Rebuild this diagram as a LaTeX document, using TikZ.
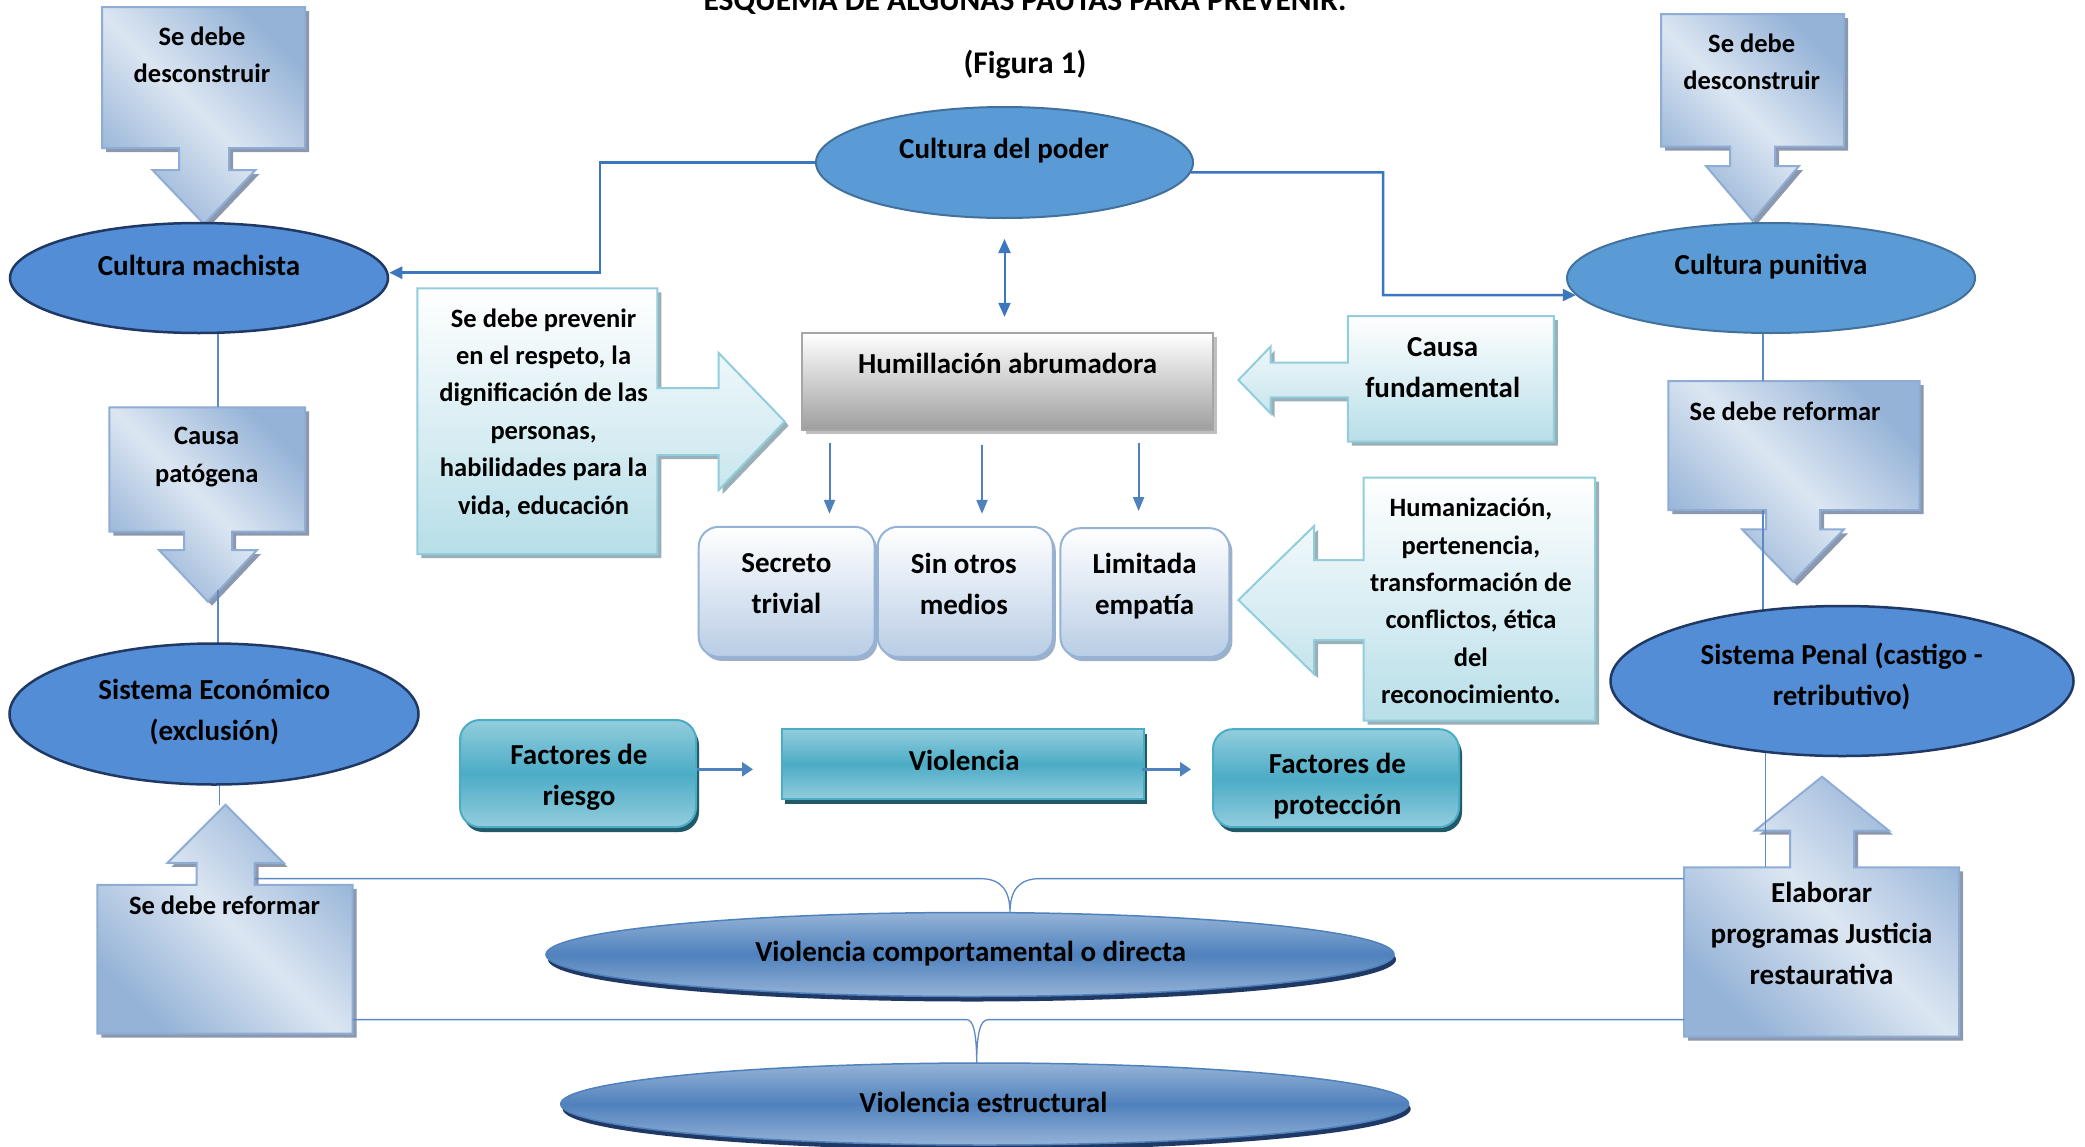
\documentclass[tikz,border=0pt]{standalone}
\usepackage{fontspec}
\setmainfont{Carlito}
\usetikzlibrary{arrows.meta,shapes.geometric,shadows,calc}
\pgfdeclarelayer{back}
\pgfdeclarelayer{mid}
\pgfsetlayers{back,mid,main}

\definecolor{cBlueA}{HTML}{538DD5}
\definecolor{cNavy}{HTML}{203864}
\definecolor{cBlueB}{HTML}{5B9BD5}
\definecolor{cBorderB}{HTML}{41719C}
\definecolor{cLine}{HTML}{3C76BE}
\definecolor{cThin}{HTML}{5B8AC6}
\definecolor{cArr}{HTML}{4F81BD}
\definecolor{cCallDark}{HTML}{95B3D7}
\definecolor{cCallLight}{HTML}{DCE6F2}
\definecolor{cCallBorder}{HTML}{8FADD4}
\definecolor{cCallShadow}{HTML}{8B98AD}
\definecolor{cCyan}{HTML}{B7DEE8}
\definecolor{cCyanBorder}{HTML}{92CDDC}
\definecolor{cCyanShadow}{HTML}{9AAFB6}
\definecolor{cGrayBot}{HTML}{9E9E9E}
\definecolor{cGrayBorder}{HTML}{A6A6A6}
\definecolor{cGrayShadow}{HTML}{BFBFBF}
\definecolor{cRoundBot}{HTML}{B9CDE5}
\definecolor{cRoundBorder}{HTML}{95B3D7}
\definecolor{cRoundShadow}{HTML}{9DB0C9}
\definecolor{cTealL}{HTML}{93CDDD}
\definecolor{cTealD}{HTML}{4BACC6}
\definecolor{cTealShadow}{HTML}{215968}
\definecolor{cVioL}{HTML}{95B3D7}
\definecolor{cVioD}{HTML}{4F81BD}
\definecolor{cVioShadow}{HTML}{1F3864}

% callout outlines: box (x1,y1)-(x2,y2), arrow centre, shaft half width, head half width, head base, tip
\newcommand\dnpath[9]{(#1,#2) -- (#3,#2) -- (#3,#4) -- ({#5+#6},#4) -- ({#5+#6},#8) -- ({#5+#7},#8) -- (#5,#9) -- ({#5-#7},#8) -- ({#5-#6},#8) -- ({#5-#6},#4) -- (#1,#4) -- cycle}
\newcommand\uppath[9]{(#1,#2) -- ({#5-#6},#2) -- ({#5-#6},#8) -- ({#5-#7},#8) -- (#5,#9) -- ({#5+#7},#8) -- ({#5+#6},#8) -- ({#5+#6},#2) -- (#3,#2) -- (#3,#4) -- (#1,#4) -- cycle}
\newcommand\rtpath[9]{(#1,#2) -- (#3,#2) -- (#3,{#5-#6}) -- (#8,{#5-#6}) -- (#8,{#5-#7}) -- (#9,#5) -- (#8,{#5+#7}) -- (#8,{#5+#6}) -- (#3,{#5+#6}) -- (#3,#4) -- (#1,#4) -- cycle}
\newcommand\ltpath[9]{(#1,#2) -- (#3,#2) -- (#3,#4) -- (#1,#4) -- (#1,{#5+#6}) -- (#8,{#5+#6}) -- (#8,{#5+#7}) -- (#9,#5) -- (#8,{#5-#7}) -- (#8,{#5-#6}) -- (#1,{#5-#6}) -- cycle}
\newcommand\bluecall[1]{%
  \fill[cCallShadow,shift={(4,4)}] #1;
  \shade[top color=cCallDark,bottom color=cCallDark,middle color=cCallLight,shading angle=-45] #1;
  \draw[cCallBorder,line width=2pt] #1;}
\newcommand\cyancall[1]{%
  \fill[cCyanShadow,shift={(4,4)}] #1;
  \shade[top color=white,bottom color=cCyan] #1;
  \draw[cCyanBorder,line width=2pt] #1;}

\tikzset{
 txtL/.style={font=\bfseries\fontsize{29}{41}\selectfont,align=center,inner sep=0pt},
 txtS/.style={font=\bfseries\fontsize{26.5}{37.4}\selectfont,align=center,inner sep=0pt},
 txtT/.style={font=\bfseries\fontsize{31.5}{38}\selectfont,anchor=base,inner sep=0pt},
 ellDark/.style={ellipse,draw=cNavy,line width=2.5pt,fill=cBlueA,inner sep=0pt},
 ellLight/.style={ellipse,draw=cBorderB,line width=2pt,fill=cBlueB,inner sep=0pt},
 grayBox/.style={rectangle,draw=cGrayBorder,line width=2pt,top color=white,bottom color=cGrayBot,
   drop shadow={fill=cGrayShadow,opacity=1,shadow xshift=4pt,shadow yshift=-4pt},inner sep=0pt},
 roundBox/.style={rectangle,rounded corners=20pt,draw=cRoundBorder,line width=2pt,top color=white,bottom color=cRoundBot,
   drop shadow={fill=cRoundShadow,opacity=1,shadow xshift=3pt,shadow yshift=-4pt},inner sep=0pt},
 tealBox/.style={rectangle,draw=cTealD,line width=2pt,top color=cTealL,bottom color=cTealL,middle color=cTealD,
   drop shadow={fill=cTealShadow,opacity=1,shadow xshift=3pt,shadow yshift=-5pt},inner sep=0pt},
 tealRound/.style={tealBox,rounded corners=20pt},
 vioEll/.style={ellipse,draw=cVioD,line width=1.5pt,top color=cVioL,bottom color=cVioL,middle color=cVioD,
   drop shadow={fill=cVioShadow,opacity=1,shadow xshift=2pt,shadow yshift=-5pt},inner sep=0pt},
 conn/.style={draw=cLine,line width=2.5pt},
 thinl/.style={draw=cThin,line width=1.3pt},
 tipA/.style={-{Triangle[length=13pt,width=12pt]}},
 darr/.style={draw=cArr,line width=2pt,-{Triangle[length=14pt,width=11pt]}},
 harr/.style={draw=cArr,line width=3pt,-{Triangle[length=11pt,width=14pt]}},
}

\begin{document}
\begin{tikzpicture}[x=1pt,y=-1pt]
\useasboundingbox (0,0) rectangle (2085,1146);

% ---------- background and callout shapes (back layer)
\begin{pgfonlayer}{back}
\fill[white] (0,0) rectangle (2085,1146);
\bluecall{\dnpath{102}{7}{305}{148}{204}{25}{51.5}{170}{224}}
\bluecall{\dnpath{1661}{14}{1844}{146.7}{1752.5}{22.5}{46.5}{166}{220.7}}
\bluecall{\dnpath{109.3}{407.3}{305}{531.7}{208}{24}{49}{550}{601.7}}
\bluecall{\dnpath{1668.4}{381}{1919.5}{510}{1793}{27}{51}{529.3}{581.7}}
\bluecall{\uppath{97.3}{884.8}{352.7}{1033.5}{225.5}{29}{58}{862.9}{804.7}}
\bluecall{\uppath{1684}{867.3}{1959}{1036.7}{1822}{32}{67}{830.7}{776.7}}
\cyancall{\rtpath{417.3}{288.3}{657.3}{554}{421.5}{33.5}{68.5}{718.7}{784.7}}
\cyancall{\ltpath{1347.9}{316}{1553.8}{441.7}{380}{17.3}{33.3}{1270.5}{1238.4}}
\cyancall{\ltpath{1363.7}{477.7}{1595}{720.7}{600}{40}{74}{1314}{1238.4}}
\end{pgfonlayer}

% ---------- main shapes
\node[ellDark,minimum width=378pt,minimum height=110pt] (machista) at (199,278) {};
\node[ellLight,minimum width=377pt,minimum height=111pt] (poder) at (1004.5,162.5) {};
\node[ellLight,minimum width=408pt,minimum height=110pt] (punitiva) at (1771,278) {};
\node[ellDark,minimum width=463pt,minimum height=150pt] (penal) at (1842,681) {};
\node[ellDark,minimum width=409pt,minimum height=141pt] (econ) at (214,714) {};
\node[grayBox,minimum width=411pt,minimum height=97pt] (hum) at (1007.75,381.35) {};
\node[roundBox,minimum width=176pt,minimum height=130pt] (secreto) at (786.7,591.85) {};
\node[roundBox,minimum width=175pt,minimum height=130pt] (sinotros) at (965.25,591.85) {};
\node[roundBox,minimum width=169pt,minimum height=129pt] (limitada) at (1144.95,592.65) {};
\node[tealRound,minimum width=236pt,minimum height=107pt] (riesgo) at (578,773.5) {};
\node[tealBox,minimum width=362pt,minimum height=70pt] (viol) at (963,764.15) {};
\node[tealRound,minimum width=246pt,minimum height=98pt] (prot) at (1336,778.15) {};
\node[vioEll,minimum width=848pt,minimum height=84pt] (comp) at (970,954.5) {};
\node[vioEll,minimum width=848pt,minimum height=82pt] (estr) at (984.7,1104) {};

% ---------- thin lines and braces (middle layer)
\coordinate (colL) at (218,0);
\coordinate (patTop) at (218,407.3);
\coordinate (patTip) at (218,590);
\coordinate (refLTip) at (219.6,804.7);
\coordinate (colR) at (1763,0);
\coordinate (refRTop) at (1763,381);
\coordinate (refRBot) at (1763,510);
\coordinate (colR2) at (1765.7,0);
\coordinate (elabTop) at (1765.7,867.3);
\coordinate (b1L) at (254.5,878.6);
\coordinate (b1R) at (1684,878.6);
\coordinate (t1) at (1010,912.7);
\coordinate (b2L) at (352.7,1019.6);
\coordinate (b2R) at (1684,1019.6);
\coordinate (t2) at (976.7,1063.5);
\begin{pgfonlayer}{mid}
\draw[thinl] (machista.center -| colL) -- (patTop);
\draw[thinl] (patTip) -- (econ.center -| patTip);
\draw[thinl] (econ.center -| refLTip) -- (refLTip);
\draw[thinl] (punitiva.center -| colR) -- (refRTop);
\draw[thinl] (refRBot) -- (penal.center -| refRBot);
\draw[thinl] (penal.center -| colR2) -- (elabTop);
\draw[thinl] (b1L) -- (980,878.6) .. controls (1001,878.6) and (1010,890) .. (t1)
  .. controls (1010,890) and (1019,878.6) .. (1040,878.6) -- (b1R);
\draw[thinl] (b2L) -- (966.7,1019.6) .. controls (973,1019.6) and (976.7,1032) .. (t2)
  .. controls (976.7,1032) and (980.5,1019.6) .. (988.3,1019.6) -- (b2R);
\end{pgfonlayer}

% ---------- connectors
\coordinate (cL) at (600,272.7);
\draw[conn,tipA] (poder.west) -| (cL) -- (cL -| machista.east);
\coordinate (cR) at (1383,295);
\draw[conn,tipA] (poder.-3) -| (cR) -- (punitiva.185);
\draw[conn,line width=2pt,{Triangle[length=14pt,width=12pt]}-{Triangle[length=14pt,width=12pt]},shorten <=20pt,shorten >=15pt]
  (poder.south) -- (poder.south |- hum.north);
\coordinate (a1) at (829.5,0);
\coordinate (a2) at (982,0);
\coordinate (a3) at (1138.6,0);
\draw[darr,shorten <=12pt,shorten >=12pt] (hum.south -| a1) -- (secreto.north -| a1);
\draw[darr,shorten <=14pt,shorten >=12pt] (hum.south -| a2) -- (sinotros.north -| a2);
\draw[darr,shorten <=12pt,shorten >=16pt] (hum.south -| a3) -- (limitada.north -| a3);
\coordinate (hy) at (0,769.3);
\draw[harr,shorten >=28pt] (riesgo.east |- hy) -- (viol.west |- hy);
\draw[harr,shorten <=-3pt,shorten >=21pt] (viol.east |- hy) -- (prot.west |- hy);

% ---------- texts
\node[txtT] (title) at (1025,10) {ESQUEMA DE ALGUNAS PAUTAS PARA PREVENIR.};
\node[txtT] (fig) at (1025,73) {(Figura 1)};
\node[txtS] (tlc-t) at (202,55) {Se debe\\desconstruir};
\node[txtS] (trc-t) at (1751.7,62) {Se debe\\desconstruir};
\node[txtL] (machista-t) at (199,265) {Cultura machista};
\node[txtL] (poder-t) at (1004,151) {Cultura del poder};
\node[txtL] (punitiva-t) at (1771,267) {Cultura punitiva};
\node[txtS] (prev-t) at (543.6,413) {Se debe prevenir\\en el respeto, la\\dignificación de las\\personas,\\habilidades para la\\vida, educación};
\node[txtL] (hum-t) at (1007.5,363) {Humillación abrumadora};
\node[txtL] (causaf-t) at (1442.7,368) {Causa\\fundamental};
\node[txtS] (human-t) at (1470.9,601) {Humanización,\\pertenencia,\\transformación de\\conflictos, ética\\del\\reconocimiento.};
\node[txtL] (secreto-t) at (786.4,584) {Secreto\\trivial};
\node[txtL] (sinotros-t) at (963.8,584) {Sin otros\\medios};
\node[txtL] (limitada-t) at (1144.6,586) {Limitada\\empatía};
\node[txtS] (refR-t) at (1785.2,411) {Se debe reformar};
\node[txtL] (penal-t) at (1841.6,676) {Sistema Penal (castigo -\\retributivo)};
\node[txtS] (causap-t) at (206.7,457) {Causa\\patógena};
\node[txtL] (econ-t) at (214.3,712.5) {Sistema Económico\\(exclusión)};
\node[txtS] (refL-t) at (224.6,905) {Se debe reformar};
\node[txtL] (elab-t) at (1821.6,933) {Elaborar\\programas Justicia\\restaurativa};
\node[txtL] (riesgo-t) at (579,777) {Factores de\\riesgo};
\node[txtL] (viol-t) at (964.3,760) {Violencia};
\node[txtL] (prot-t) at (1337.4,786) {Factores de\\protección};
\node[txtL] (comp-t) at (970.7,953.5) {Violencia comportamental o directa};
\node[txtL] (estr-t) at (983.4,1102) {Violencia estructural};
\end{tikzpicture}
\end{document}
